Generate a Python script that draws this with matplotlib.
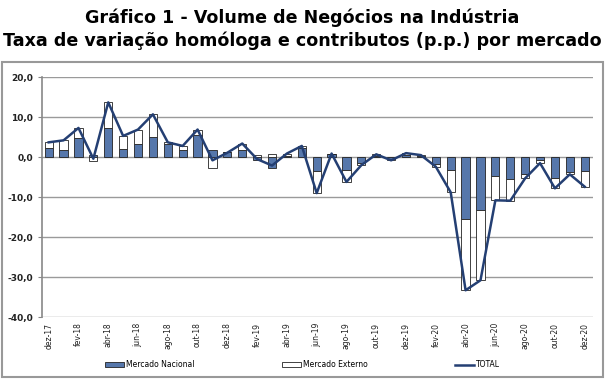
import matplotlib
matplotlib.use("Agg")
import matplotlib.pyplot as plt
import numpy as np

meses = ["dez-17", "jan-18", "fev-18", "mar-18", "abr-18", "mai-18", "jun-18", "jul-18",
         "ago-18", "set-18", "out-18", "nov-18", "dez-18", "jan-19", "fev-19", "mar-19",
         "abr-19", "mai-19", "jun-19", "jul-19", "ago-19", "set-19", "out-19", "nov-19",
         "dez-19", "jan-20", "fev-20", "mar-20", "abr-20", "mai-20", "jun-20", "jul-20",
         "ago-20", "set-20", "out-20", "nov-20", "dez-20"]
nacional = [2.3, 1.7, 4.7, 0.6, 7.3, 2.0, 3.4, 5.1, 3.2, 1.9, 5.5, 1.8, 1.2, 1.8, -0.8, -2.8,
            0.3, 2.4, -3.4, 0.7, -3.3, -1.4, 0.3, -0.5, 0.5, 0.2, -1.7, -3.1, -15.5, -13.3,
            -4.7, -5.5, -4.1, -0.6, -5.1, -3.8, -3.4]
externo = [1.4, 2.5, 2.6, -1.0, 6.4, 3.3, 3.5, 5.6, 0.5, 0.9, 1.4, -2.6, 0.1, 1.6, 0.6, 0.7,
           0.6, 0.4, -5.6, 0.2, -2.9, -0.6, 0.5, -0.3, 0.5, 0.3, -0.7, -5.7, -17.8, -17.5,
           -6.1, -5.4, -1.2, -0.9, -2.7, -0.5, -4.0]
total = [3.7, 4.2, 7.3, -0.4, 13.7, 5.3, 6.9, 10.7, 3.7, 2.8, 6.9, -0.8, 1.1, 3.4, -0.5, -2.1,
         0.9, 2.8, -9.0, 0.9, -6.2, -2.0, 0.7, -0.8, 1.0, 0.5, -2.4, -8.8, -33.3, -30.8,
         -10.8, -10.9, -5.3, -1.5, -7.8, -4.3, -7.4]

x = np.arange(len(meses))
nac = np.array(nacional)
ext = np.array(externo)
# stack positives and negatives separately, like Excel does
base_ext = np.where(np.sign(ext) == np.sign(nac), nac, 0)

fig = plt.figure(figsize=(6.05, 3.82), dpi=100)
ax = fig.add_axes([0.0694, 0.170, 0.9106, 0.628])

azul = "#5677AB"
linha = "#243F73"
b1 = ax.bar(x, nac, width=0.55, color=azul, edgecolor="#222222", linewidth=0.6,
            label="Mercado Nacional", zorder=2)
b2 = ax.bar(x, ext, width=0.55, bottom=base_ext, color="white", edgecolor="#222222",
            linewidth=0.6, label="Mercado Externo", zorder=2)
l1, = ax.plot(x, total, color=linha, linewidth=1.8, label="TOTAL", zorder=3)

ax.set_xlim(-0.45, len(meses) - 0.45)
ax.set_ylim(-40, 20)
ax.set_yticks(range(-40, 21, 10))
ax.set_yticklabels([f"{v:.1f}".replace(".", ",") for v in range(-40, 21, 10)],
                   fontsize=6.5, fontweight="bold", color="#222222")
ax.grid(axis="y", color="#9a9a9a", linewidth=1.0)
ax.set_axisbelow(True)

ax.set_xticks(x[::2])
ax.set_xticklabels(meses[::2], rotation=90, fontsize=5.5, color="#222222")
ax.tick_params(axis="x", length=0, pad=4)
ax.tick_params(axis="y", length=3, color="#888888")
for s in ["top", "right", "bottom"]:
    ax.spines[s].set_visible(False)
ax.spines["left"].set_color("#888888")
ax.spines["left"].set_linewidth(1.2)

fig.text(0.5, 0.953, "Gráfico 1 - Volume de Negócios na Indústria", ha="center",
         va="center", fontsize=12.6, fontweight="bold")
fig.text(0.5, 0.893, "Taxa de variação homóloga e contributos (p.p.) por mercado",
         ha="center", va="center", fontsize=12.6, fontweight="bold")

fig.legend(handles=[b1, b2, l1], loc="center", bbox_to_anchor=(0.5, 0.045), ncol=3,
           frameon=False, fontsize=5.5, columnspacing=11.5, handlelength=2.5,
           handleheight=0.6, handletextpad=0.2)

borda = plt.Rectangle((0.004, 0.012), 0.992, 0.825, transform=fig.transFigure,
                      fill=False, edgecolor="#999999", linewidth=1.5)
fig.patches.append(borda)

fig.savefig("out.png", dpi=100)
